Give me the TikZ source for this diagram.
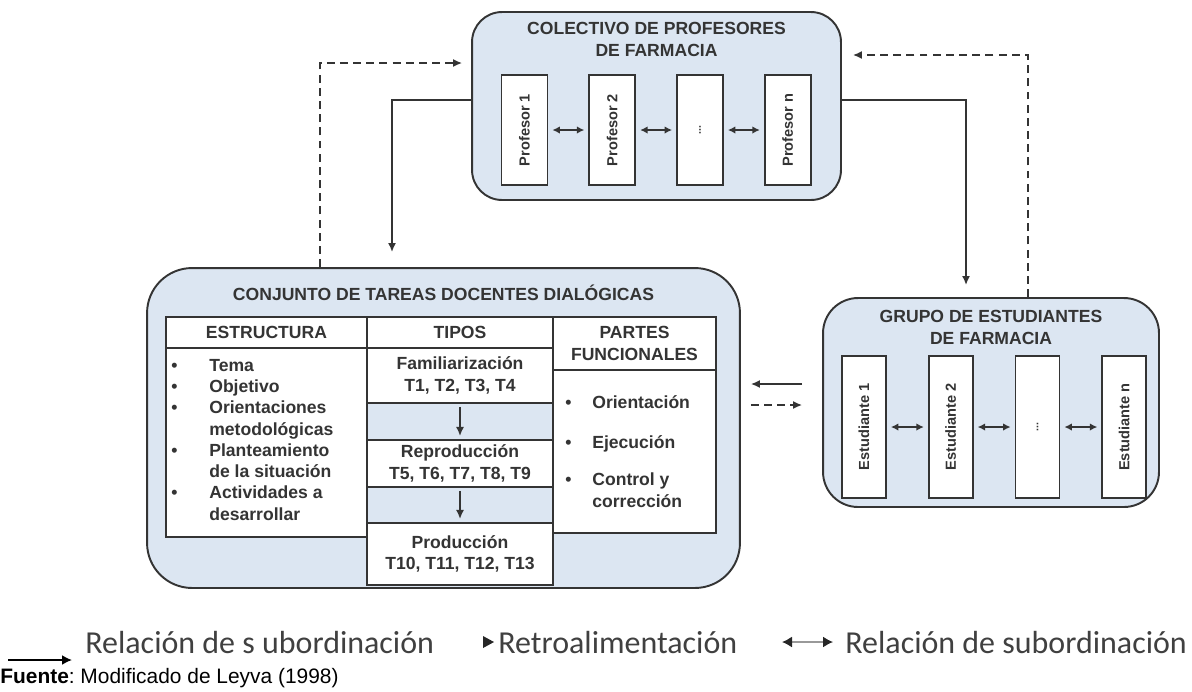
\documentclass[tikz,border=0pt]{standalone}
\usepackage{fontspec}
\setmainfont{Liberation Sans}
\newfontfamily\legendfont{Carlito}
\usepackage{graphicx}
\usepackage{xcolor}
\usetikzlibrary{arrows.meta,positioning,calc}
\definecolor{panelblue}{RGB}{220,230,242}
\definecolor{inkgray}{RGB}{52,52,52}

\begin{document}
\begin{tikzpicture}[x=0.02cm, y=-0.02cm,
    every node/.style={font=\fontsize{10}{12.1}\selectfont\bfseries, text=inkgray},
    panel/.style={draw=inkgray, line width=1.1pt, fill=panelblue},
    member/.style={draw=inkgray, line width=1pt, fill=white, inner sep=0pt, font=\fontsize{8.3}{10}\selectfont\bfseries},
    cell/.style={draw=inkgray, line width=1pt, fill=white, inner sep=0pt, outer sep=0pt, align=center},
    tipcell/.style={cell, minimum width=3.72cm},
    sub/.style={-{Latex[length=1.8mm,width=1.6mm]}, line width=0.9pt, draw=inkgray},
    retro/.style={sub, dash pattern=on 4.5pt off 3pt},
    peer/.style={{Latex[length=1.5mm,width=1.5mm]}-{Latex[length=1.5mm,width=1.5mm]}, line width=0.9pt, draw=inkgray, shorten <=0.08cm, shorten >=0.08cm}]
  \useasboundingbox (0,0) rectangle (1192,691);

  % profesores
  \node[panel, rounded corners=0.6cm, minimum width=7.38cm, minimum height=3.76cm] (colectivo) at (656.5,106) {};
  \node[align=center, font=\fontsize{10}{12.5}\selectfont\bfseries] (coltitle) at (656.5,39) {COLECTIVO DE PROFESORES\\DE FARMACIA};
  \node[member, minimum width=0.92cm, minimum height=2.2cm] (prof1) at (524.5,130) {\rotatebox{90}{Profesor 1}};
  \node[member, minimum width=0.92cm, minimum height=2.2cm, right=0.8cm of prof1] (prof2) {\rotatebox{90}{Profesor 2}};
  \node[member, minimum width=0.92cm, minimum height=2.2cm, right=0.8cm of prof2, font=\fontsize{6}{7}\selectfont\bfseries] (profdots) {\rotatebox{90}{...}};
  \node[member, minimum width=0.92cm, minimum height=2.2cm, right=0.8cm of profdots] (profn) {\rotatebox{90}{Profesor n}};
  \foreach \a/\b in {prof1/prof2, prof2/profdots, profdots/profn}
    \draw[peer] (\a) -- (\b);

  % conjunto de tareas
  \node[panel, rounded corners=0.9cm, minimum width=11.86cm, minimum height=6.4cm] (conjunto) at (443.5,428) {};
  \node (conjtitle) at (443.5,293) {CONJUNTO DE TAREAS DOCENTES DIALÓGICAS};

  \node[cell, minimum width=4.02cm, minimum height=0.62cm] (estrhead) at (266.5,332.5) {ESTRUCTURA};
  \node[cell, minimum width=4.02cm, minimum height=3.78cm, below=0cm of estrhead] (estrbody) {};
  \node[anchor=north west, inner sep=0pt] (estrlist) at (171,356) {%
    \begin{tabular}{@{}p{0.76cm}@{}l@{}}
      • & Tema\\
      • & Objetivo\\
      • & Orientaciones\\
        & metodológicas\\
      • & Planteamiento\\
        & de la situación\\
      • & Actividades a\\
        & desarrollar
    \end{tabular}};

  \node[tipcell, minimum height=0.62cm] (tiphead) at (460,332.5) {TIPOS};
  \node[tipcell, minimum height=1.1cm, below=0cm of tiphead] (fam) {Familiarización\\T1, T2, T3, T4};
  \node[tipcell, minimum height=0.74cm, fill=panelblue, below=0cm of fam] (gapa) {};
  \node[tipcell, minimum height=0.94cm, below=0cm of gapa] (rep) {Reproducción\\T5, T6, T7, T8, T9};
  \node[tipcell, minimum height=0.72cm, fill=panelblue, below=0cm of rep] (gapb) {};
  \node[tipcell, minimum height=1.24cm, below=0cm of gapb] (prod) {Producción\\T10, T11, T12, T13};
  \draw[sub, shorten <=0.08cm, shorten >=0.08cm] (fam.south) -- (rep.north);
  \draw[sub, shorten <=0.08cm, shorten >=0.08cm] (rep.south) -- (prod.north);

  \node[cell, minimum width=3.26cm, minimum height=1.06cm, font=\fontsize{10}{12.5}\selectfont\bfseries] (parthead) at (634.5,343.5) {PARTES\\FUNCIONALES};
  \node[cell, minimum width=3.26cm, minimum height=3.26cm, below=0cm of parthead] (partbody) {};
  \node[anchor=north west, inner sep=0pt] (partlist) at (565,393) {%
    \begin{tabular}{@{}p{0.54cm}@{}l@{}}
      • & Orientación\\[0.37cm]
      • & Ejecución\\[0.33cm]
      • & Control y\\
        & corrección
    \end{tabular}};

  % estudiantes
  \node[panel, rounded corners=0.7cm, minimum width=6.72cm, minimum height=4.18cm] (grupo) at (991,402.5) {};
  \node[align=center, font=\fontsize{10}{12.5}\selectfont\bfseries] (grutitle) at (991,327.5) {GRUPO DE ESTUDIANTES\\DE FARMACIA};
  \node[member, minimum width=0.88cm, minimum height=2.84cm] (est1) at (864,427) {\rotatebox{90}{Estudiante 1}};
  \node[member, minimum width=0.88cm, minimum height=2.84cm, right=0.82cm of est1] (est2) {\rotatebox{90}{Estudiante 2}};
  \node[member, minimum width=0.88cm, minimum height=2.84cm, right=0.82cm of est2, font=\fontsize{6}{7}\selectfont\bfseries] (estdots) {\rotatebox{90}{...}};
  \node[member, minimum width=0.88cm, minimum height=2.84cm, right=0.82cm of estdots] (estn) {\rotatebox{90}{Estudiante n}};
  \foreach \a/\b in {est1/est2, est2/estdots, estdots/estn}
    \draw[peer] (\a) -- (\b);

  % relaciones entre bloques
  \coordinate (downL) at (392,252);
  \coordinate (downR) at (966,285);
  \coordinate (fbL) at (320,63);
  \coordinate (fbR) at (1028,55);
  \coordinate (backline) at (0,384);
  \coordinate (fwdline) at (0,405);
  \draw[sub] ([yshift=0.12cm]colectivo.west) -| (downL);
  \draw[sub] ([yshift=0.12cm]colectivo.east) -| (downR);
  \draw[retro] (conjunto.north -| fbL) |- ([xshift=-0.18cm]colectivo.west |- fbL);
  \draw[retro] (grupo.north -| fbR) |- ([xshift=0.22cm]colectivo.east |- fbR);
  \draw[sub] ([xshift=-0.4cm]grupo.west |- backline) -- ([xshift=0.2cm]conjunto.east |- backline);
  \draw[retro] ([xshift=0.2cm]conjunto.east |- fwdline) -- ([xshift=-0.4cm]grupo.west |- fwdline);

  % leyenda
  \coordinate (legA) at (8,660);
  \coordinate (legB) at (72,660);
  \coordinate (legC) at (782,642);
  \coordinate (legD) at (833,642);
  \draw[-{Latex[length=2mm,width=2mm]}, line width=1pt, draw=black] (legA) -- (legB);
  \node[anchor=west, inner sep=0pt, font=\legendfont\fontsize{18.2}{20}\selectfont, text=black!75] (legsub) at (85,642) {Relación de s ubordinación};
  \fill[black!85] (483,636) -- (494,642) -- (483,648) -- cycle;
  \node[anchor=west, inner sep=0pt, font=\legendfont\fontsize{18.2}{20}\selectfont, text=black!75] (legretro) at (498,642) {Retroalimentación};
  \draw[{Latex[length=2mm,width=2.2mm,color=black!85]}-{Latex[length=2mm,width=2.2mm,color=black!85]}, draw=black!40, line width=0.8pt] (legC) -- (legD);
  \node[anchor=west, inner sep=0pt, font=\legendfont\fontsize{18.2}{20}\selectfont, text=black!75] (legpeer) at (845,642) {Relación de subordinación};
  \node[anchor=west, inner sep=0pt, font=\fontsize{11.9}{14}\selectfont\frenchspacing, text=black] (source) at (0,678) {\textbf{Fuente}: Modificado de Leyva (1998)};
\end{tikzpicture}
\end{document}
